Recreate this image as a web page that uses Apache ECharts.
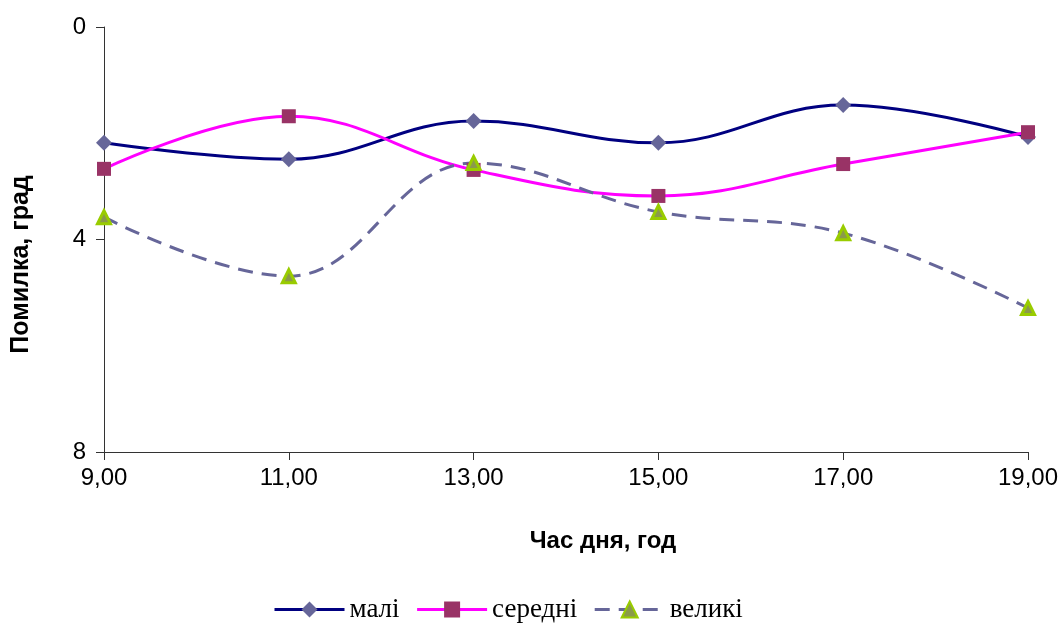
<!DOCTYPE html>
<html>
<head>
<meta charset="utf-8">
<script src="https://cdn.jsdelivr.net/npm/echarts@6/dist/echarts.min.js"></script>
<style>
  html, body { margin: 0; padding: 0; background: #fff; }
  #chart { width: 1062px; height: 623px; }
</style>
</head>
<body>
<div id="chart"></div>
<script>
// години доби
const hours = ['9,00', '11,00', '13,00', '15,00', '17,00', '19,00']
// помилка, град
const mali = [2.18, 2.49, 1.77, 2.18, 1.47, 2.07]
const seredni = [2.67, 1.68, 2.69, 3.18, 2.58, 1.98]
const veliki = [3.58, 4.69, 2.56, 3.48, 3.88, 5.29]

const chart = echarts.init(document.getElementById('chart'))
chart.setOption({
  animation: false,
  textStyle: { fontFamily: 'Liberation Sans, Arial, sans-serif' },
  grid: { left: 104, right: 34, top: 27, bottom: 171 },
  legend: {
    top: 591,
    left: 268,
    itemWidth: 70,
    itemHeight: 20,
    itemGap: 16,
    lineStyle: { width: 3 },
    textStyle: { fontFamily: 'Liberation Serif, Times New Roman, serif', fontSize: 27, color: '#000' },
    data: ['малі', 'середні', 'великі']
  },
  xAxis: {
    type: 'category',
    position: 'bottom',
    boundaryGap: false,
    data: hours,
    name: 'Час дня, год',
    nameLocation: 'middle',
    nameGap: 77,
    nameTextStyle: { fontSize: 24, fontWeight: 'bold', color: '#000', padding: [0, 0, 0, 74] },
    axisLine: { onZero: false, lineStyle: { color: '#333', width: 1 } },
    axisTick: { show: true, length: 8, lineStyle: { color: '#333' } },
    axisLabel: { fontSize: 24, color: '#000', margin: 14 },
    splitLine: { show: false }
  },
  yAxis: {
    type: 'value',
    inverse: true,
    min: 0,
    max: 8,
    interval: 4,
    name: 'Помилка, град',
    nameLocation: 'middle',
    nameGap: 70,
    nameRotate: 90,
    nameTextStyle: { fontSize: 25, fontWeight: 'bold', color: '#000', padding: [0, 50, 0, 0] },
    axisLine: { show: true, lineStyle: { color: '#333', width: 1 } },
    axisTick: { show: true, length: 8, lineStyle: { color: '#333' } },
    axisLabel: { fontSize: 24, color: '#000', margin: 18 },
    splitLine: { show: false }
  },
  series: [
    {
      name: 'малі',
      type: 'line',
      data: mali,
      smooth: 0.4,
      symbol: 'diamond',
      symbolSize: 16,
      lineStyle: { color: '#000080', width: 3 },
      itemStyle: { color: '#666699', borderWidth: 0 }
    },
    {
      name: 'середні',
      type: 'line',
      data: seredni,
      smooth: 0.4,
      symbol: 'rect',
      symbolSize: 14,
      lineStyle: { color: '#ff00ff', width: 3 },
      itemStyle: { color: '#993366', borderWidth: 0 }
    },
    {
      name: 'великі',
      type: 'line',
      data: veliki,
      smooth: 0.4,
      symbol: 'triangle',
      symbolSize: 13,
      lineStyle: { color: '#666699', width: 3, type: [15, 9] },
      itemStyle: { color: '#8a9a4a', borderColor: '#99cc00', borderWidth: 3 }
    }
  ]
})
</script>
</body>
</html>
